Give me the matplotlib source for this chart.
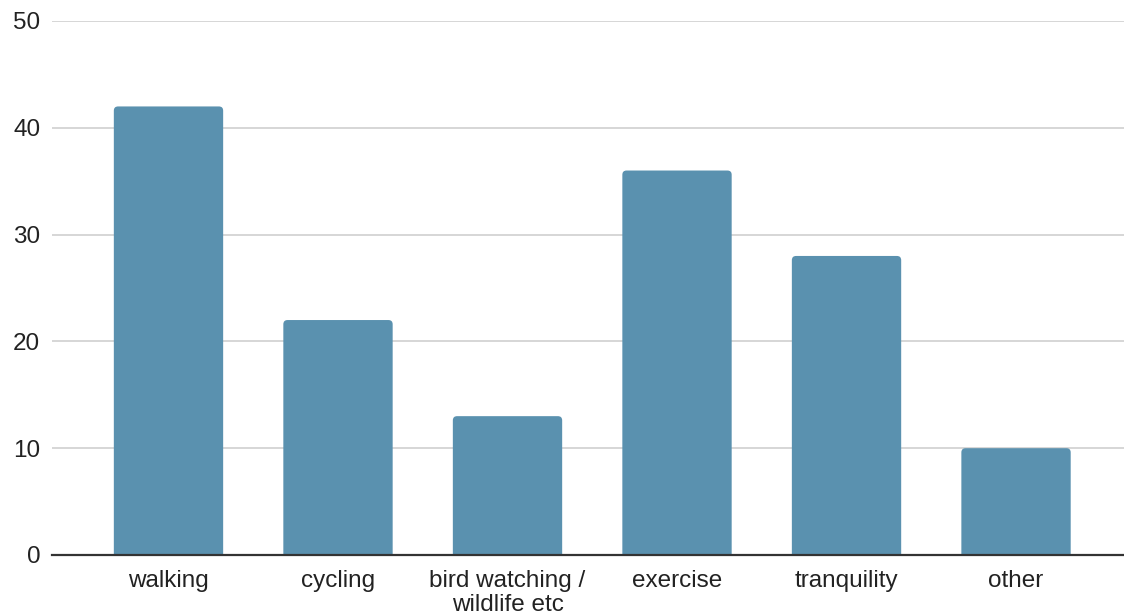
import matplotlib
matplotlib.use("Agg")
import matplotlib.pyplot as plt
from matplotlib.patches import FancyBboxPatch

categories = ["walking", "cycling", "bird watching /\nwildlife etc", "exercise", "tranquility", "other"]
values = [42, 22, 13, 36, 28, 10]
y_ticks = [0, 10, 20, 30, 40, 50]

BAR_COLOR = "#5a91af"
plt.rcParams["font.family"] = ["Liberation Sans", "DejaVu Sans"]

fig = plt.figure(figsize=(11.24, 6.14), dpi=100)
ax = fig.add_axes([0.0463, 0.0961, 0.9537, 0.8697])

bar_width = 0.645
xlim = (-0.687, 5.637)
ylim = (0, 50)
ax.set_xlim(*xlim)
ax.set_ylim(*ylim)

# pixel-to-data ratio so the rounded corners stay circular
bbox = ax.get_window_extent()
aspect = ((ylim[1] - ylim[0]) / bbox.height) / ((xlim[1] - xlim[0]) / bbox.width)
radius = 0.025

for i, v in enumerate(values):
    patch = FancyBboxPatch(
        (i - bar_width / 2, -2), bar_width, v + 2,
        boxstyle=f"round,pad=0,rounding_size={radius}",
        mutation_aspect=aspect,
        facecolor=BAR_COLOR, edgecolor="none", zorder=3,
    )
    patch.set_clip_path(ax.patch)
    ax.add_patch(patch)

ax.set_xticks(range(len(categories)))
ax.set_xticklabels(categories, fontsize=17.5, color="#222222", linespacing=1.15)
ax.set_yticks(y_ticks)
ax.set_yticklabels([str(t) for t in y_ticks], fontsize=17.5, color="#222222")
ax.tick_params(axis="both", length=0)
ax.tick_params(axis="y", pad=8.5)
ax.tick_params(axis="x", pad=10.5)

ax.grid(axis="y", color="#cccccc", linewidth=1.1, zorder=0)
ax.set_axisbelow(True)
for side in ("top", "right", "left"):
    ax.spines[side].set_visible(False)
ax.spines["bottom"].set_color("#333333")
ax.spines["bottom"].set_linewidth(1.6)
ax.spines["bottom"].set_zorder(4)

fig.savefig("out.png", dpi=100, facecolor="white")
